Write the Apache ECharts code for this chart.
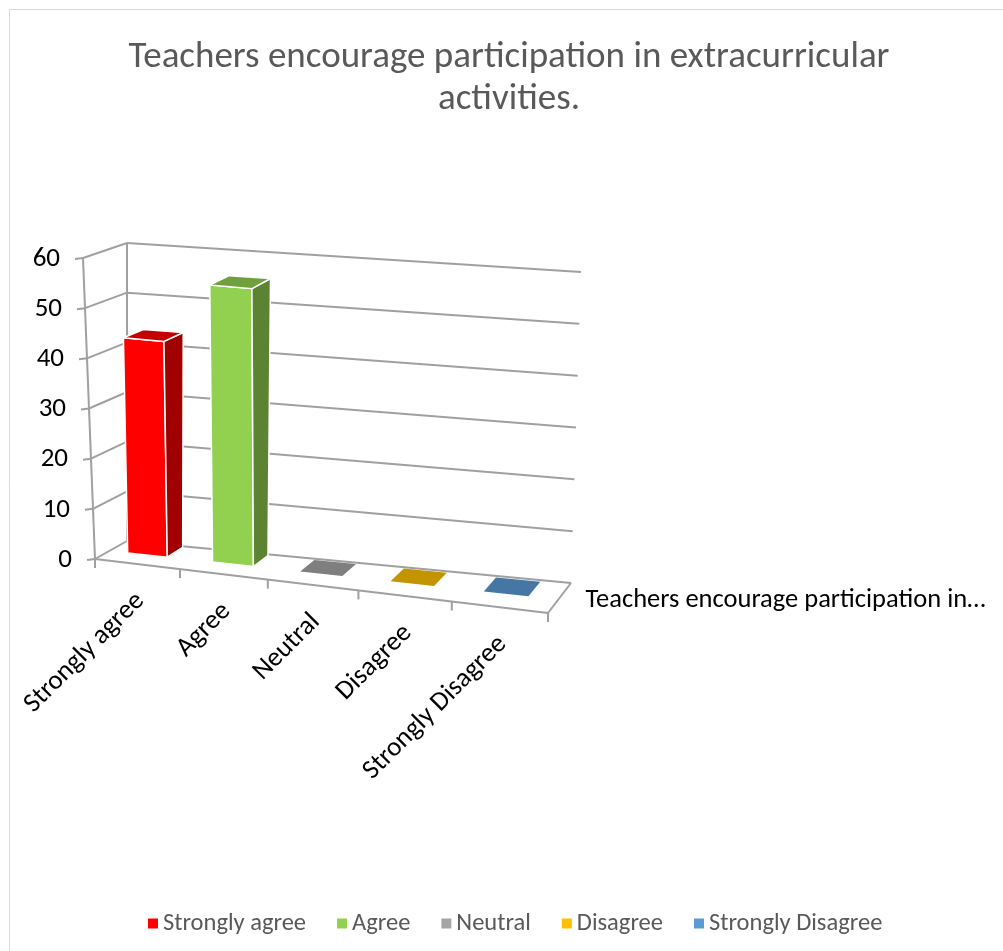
<!DOCTYPE html>
<html>
<head>
<meta charset="utf-8">
<title>Teachers encourage participation in extracurricular activities.</title>
<script src="https://cdn.jsdelivr.net/npm/echarts@6/dist/echarts.min.js"></script>
<style>
  html, body { margin: 0; padding: 0; background: #fff; }
  #chart { width: 1003px; height: 951px; }
</style>
</head>
<body>
<div id="chart"></div>
<script>
var categories = ['Strongly agree', 'Agree', 'Neutral', 'Disagree', 'Strongly Disagree'];
var values = [43, 55, 0, 0, 0];
var colors = ['#ff0000', '#92d050', '#a5a5a5', '#ffc000', '#5b9bd5'];
var yTicks = [0, 10, 20, 30, 40, 50, 60];
var seriesLabel = 'Teachers encourage participation in…';
var titleText = 'Teachers encourage participation in extracurricular\nactivities.';

var FONT = 'Carlito, Lato, sans-serif';
var GRID_COLOR = '#a0a0a0';

function shade(hex, k) {
  var n = parseInt(hex.slice(1), 16);
  var r = Math.round(((n >> 16) & 255) * k);
  var g = Math.round(((n >> 8) & 255) * k);
  var b = Math.round((n & 255) * k);
  return 'rgb(' + r + ',' + g + ',' + b + ')';
}

// fake 3d: bend the flat grid into a front plane and push points back by depth d (0 front .. 1 back)
function makeProj(params, api) {
  var cs = params.coordSys;
  var band = api.size([1, 0])[0];
  var x0 = api.coord([0, 0])[0] - band / 2;
  return function (pos, val, d) {
    var x = x0 + pos * band;
    var y = api.coord([0, val])[1];
    var s = (x - cs.x) / cs.width;
    var t = (cs.y + cs.height - y) / cs.height;
    s = s + 0.077 * s * (s - 1);
    var fx = cs.x + s * cs.width - (12 - 20 * s) * t;
    var fy = cs.y + cs.height + 54 * s - t * cs.height * (1 + 0.03 * s);
    var dxl = 32 + 12 * t, dyl = -18 + 3 * t;
    var dxr = 23 + 2 * t, dyr = -30 - t;
    var dx = dxl + (dxr - dxl) * s;
    var dy = dyl + (dyr - dyl) * s;
    return [fx + d * dx, fy + d * dy];
  };
}

function renderFrame(params, api) {
  var P = makeProj(params, api);
  var n = categories.length;
  var top = yTicks[yTicks.length - 1];
  var kids = [];
  function seg(a, b) {
    kids.push({
      type: 'line',
      shape: { x1: a[0], y1: a[1], x2: b[0], y2: b[1] },
      style: { stroke: GRID_COLOR, lineWidth: 2 }
    });
  }
  yTicks.forEach(function (v) {
    var a = P(0, v, 0);
    seg(a, P(0, v, 1));
    if (v > 0) seg(P(0, v, 1), P(n, v, 1));
    seg([a[0] - 8, a[1] + 1], a);
    kids.push({
      type: 'text',
      x: a[0] - 23, y: a[1] + 1,
      style: { text: String(v), align: 'right', verticalAlign: 'middle', font: '27px ' + FONT, fill: '#000' }
    });
  });
  seg(P(0, 0, 0), P(0, top, 0));
  seg(P(0, 0, 1), P(0, top, 1));
  // floor
  seg(P(0, 0, 1), P(n, 0, 1));
  seg(P(0, 0, 0), P(n, 0, 0));
  seg(P(n, 0, 0), P(n, 0, 1));
  for (var i = 0; i <= n; i++) {
    var b = P(i, 0, 0);
    seg(b, [b[0], b[1] + 9]);
  }
  categories.forEach(function (c, i) {
    var a = P(i + 0.5, 0, 0);
    kids.push({
      type: 'text',
      x: a[0] + 3, y: a[1] + 33,
      rotation: Math.PI / 4,
      style: { text: c, align: 'right', verticalAlign: 'middle', font: '27px ' + FONT, fill: '#000' }
    });
  });
  var m = P(n, 0, 0.5);
  kids.push({
    type: 'text',
    x: m[0] + 26, y: m[1] + 2,
    style: { text: seriesLabel, align: 'left', verticalAlign: 'middle', font: '26.5px ' + FONT, fill: '#000' }
  });
  return { type: 'group', children: kids };
}

function renderBar(params, api) {
  var P = makeProj(params, api);
  var i = api.value(0);
  var v = api.value(1);
  var u0 = i + 0.22, u1 = i + 0.69, d0 = 0.45, d1 = 0.95;
  var c = colors[i];
  var edge = v > 0 ? { stroke: '#fff', lineWidth: 1.5, lineJoin: 'round' } : {};
  var kids = [];
  function face(pts, fill) {
    kids.push({ type: 'polygon', shape: { points: pts }, style: Object.assign({ fill: fill }, edge) });
  }
  if (v > 0) {
    face([P(u0, 0, d0), P(u1, 0, d0), P(u1, v, d0), P(u0, v, d0)], c);
    face([P(u1, 0, d0), P(u1, 0, d1), P(u1, v, d1), P(u1, v, d0)], shade(c, 0.63));
  }
  face([P(u0, v, d0), P(u1, v, d0), P(u1, v, d1), P(u0, v, d1)], shade(c, 0.77));
  return { type: 'group', children: kids };
}

var chart = echarts.init(document.getElementById('chart'));

var series = [{
  name: 'frame',
  type: 'custom',
  silent: true,
  z: 1,
  data: [[0, 0]],
  renderItem: renderFrame
}];
categories.forEach(function (c, i) {
  series.push({
    name: c,
    type: 'custom',
    z: 2,
    itemStyle: { color: colors[i] },
    data: [[i, values[i]]],
    renderItem: renderBar
  });
});

chart.setOption({
  animation: false,
  title: {
    text: titleText,
    left: 509,
    textAlign: 'center',
    top: 37,
    padding: 0,
    textStyle: { fontFamily: FONT, fontSize: 37, fontWeight: 'normal', color: '#595959', lineHeight: 42 }
  },
  graphic: [{
    type: 'rect',
    shape: { x: 9.5, y: 9.5, width: 1010, height: 960 },
    style: { fill: null, stroke: '#d9d9d9', lineWidth: 1 },
    silent: true
  }],
  legend: {
    data: categories,
    top: 906,
    left: 143,
    padding: 5,
    icon: 'rect',
    itemWidth: 10,
    itemHeight: 10,
    itemGap: 31,
    textStyle: { fontFamily: FONT, fontSize: 24.5, color: '#595959' }
  },
  grid: { left: 95, right: 455, top: 258, bottom: 392 },
  xAxis: {
    type: 'category',
    data: categories,
    show: false
  },
  yAxis: {
    type: 'value',
    min: 0,
    max: 60,
    interval: 10,
    show: false
  },
  series: series
});
</script>
</body>
</html>
